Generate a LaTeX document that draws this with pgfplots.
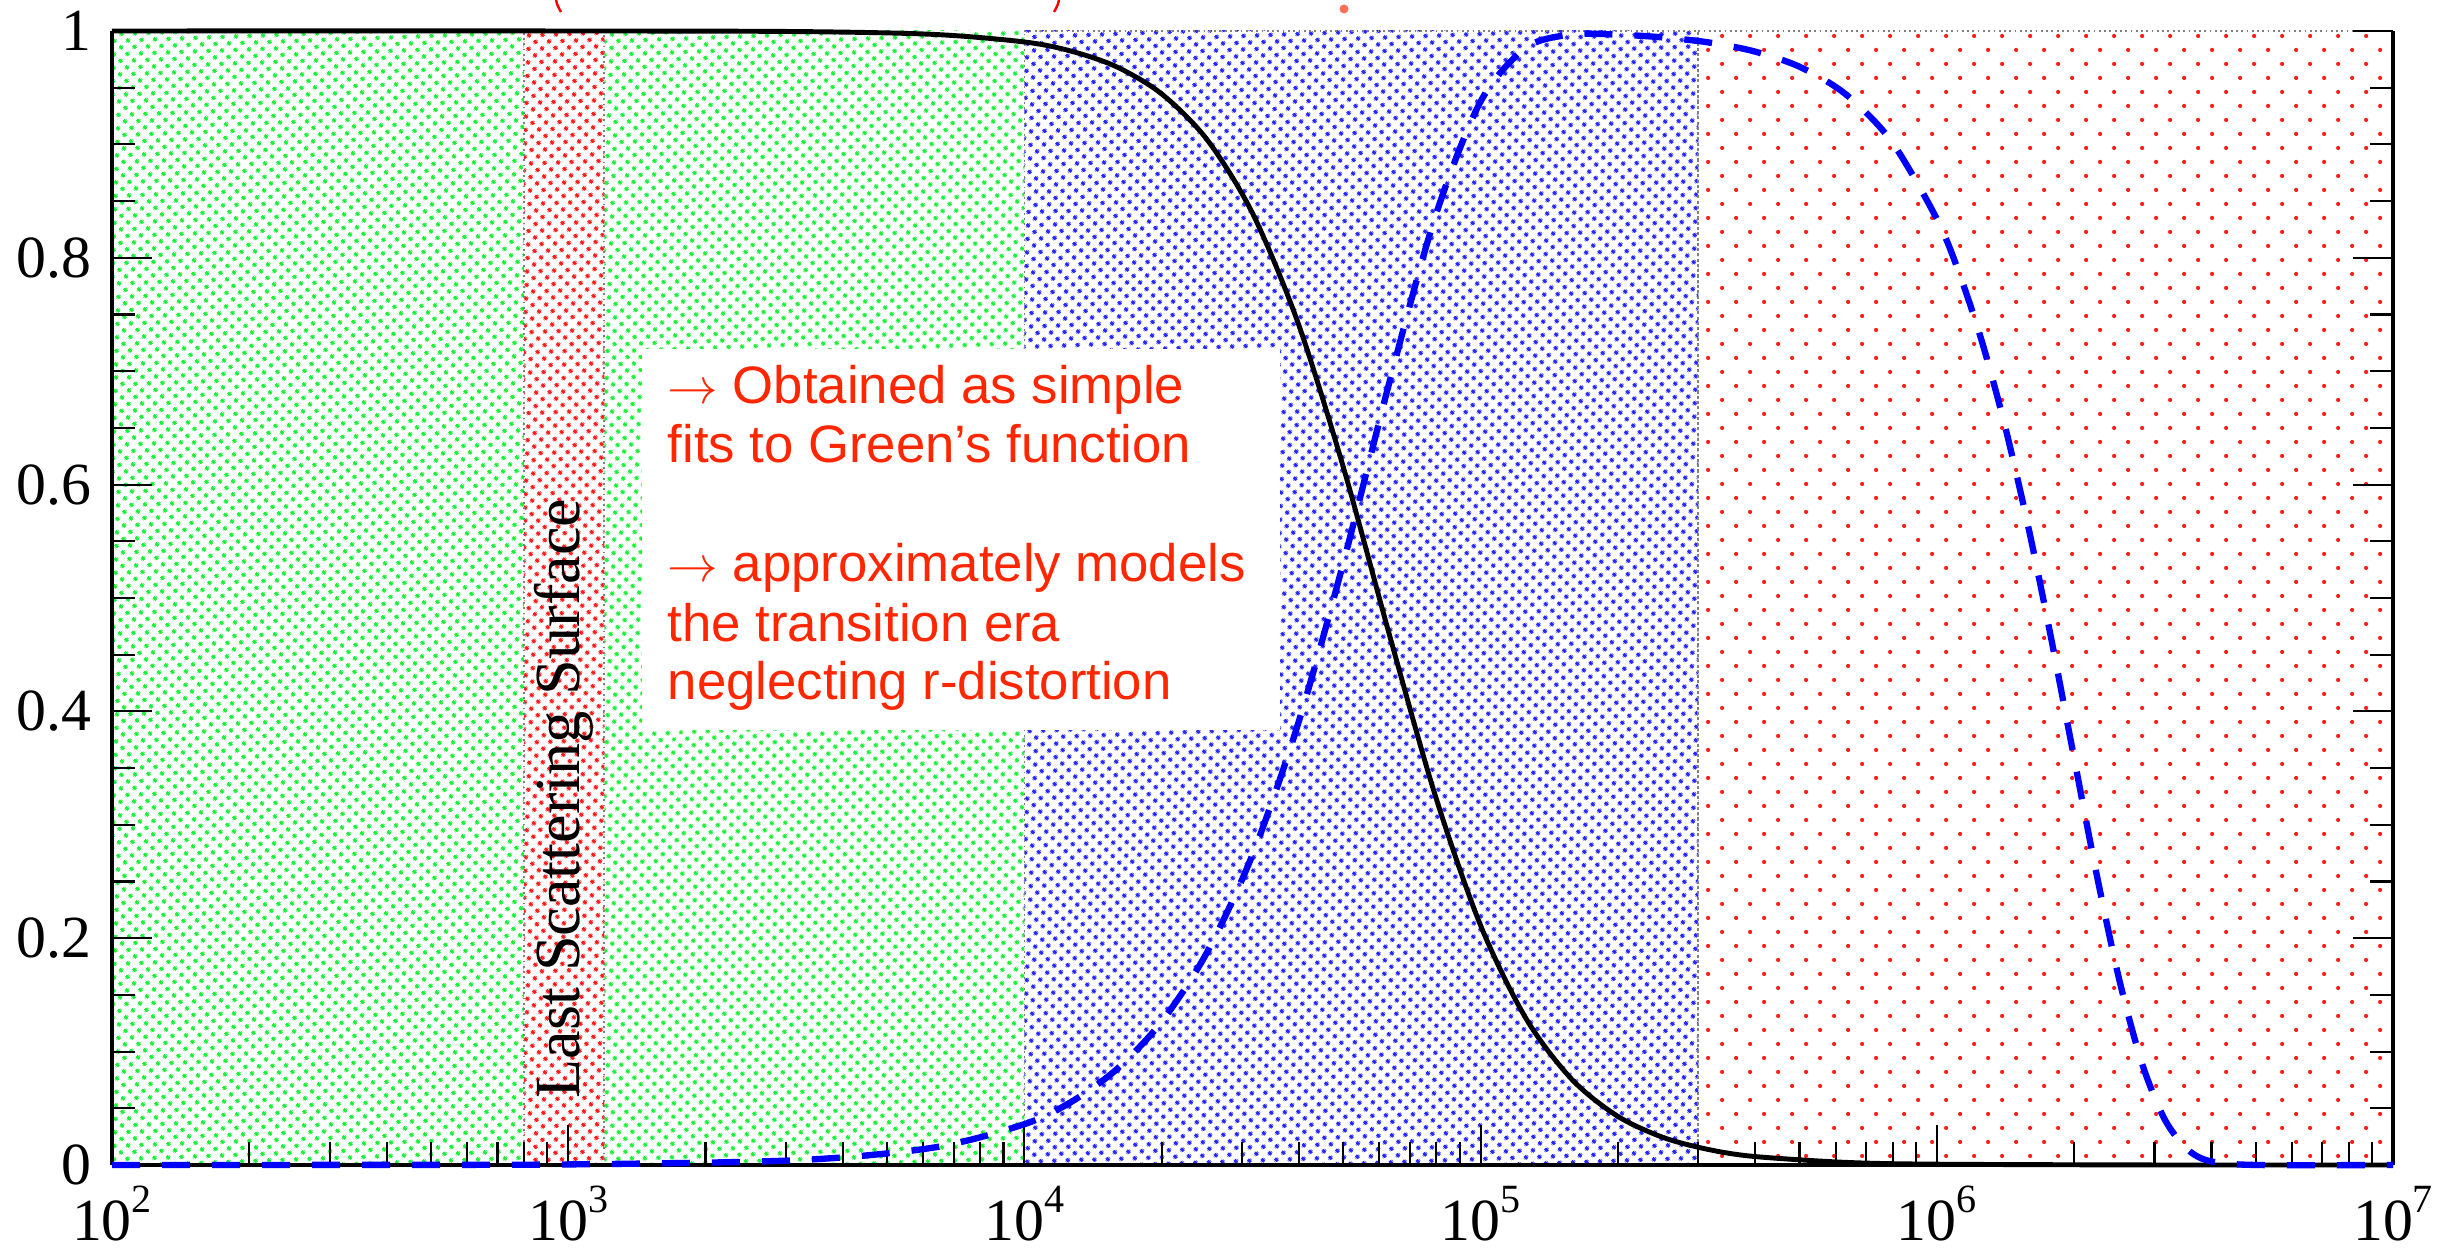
\documentclass[border=0pt]{standalone}
\usepackage{pgfplots}
\pgfplotsset{compat=1.18}
\usepackage{fontspec}
\setmainfont{Liberation Serif}
\newfontfamily\arial{Liberation Sans}
\usetikzlibrary{patterns.meta}
\definecolor{dotgreen}{RGB}{30,240,60}
\definecolor{dotblue}{RGB}{40,40,255}
\definecolor{dotred}{RGB}{255,30,30}
\definecolor{txtred}{RGB}{255,38,0}
\definecolor{salmon}{RGB}{255,110,85}
\newcommand{\dec}[1]{10\raisebox{0.47em}{\fontsize{11.4}{12}\selectfont #1}}

\pgfplotstableread{
x y
100 1.0
1000 1.0
3162 0.9995
6310 0.9970
10000 0.9903
12589 0.9825
15849 0.9688
19953 0.9448
25119 0.9044
31623 0.8393
39811 0.7424
50119 0.6141
63096 0.4677
79433 0.3266
100000 0.2112
125893 0.1288
158489 0.0755
199526 0.0431
251189 0.0243
316228 0.0136
398107 0.0075
630957 0.0023
1000000 0.0007
3162278 0.0
10000000 0.0
}\blackdata

\pgfplotstableread{
x y
100 0.0
316.2 0.0001
1000 0.0005
3162 0.0042
6310 0.0153
10000 0.0360
12589 0.0550
15849 0.0836
19953 0.1259
25119 0.1873
31623 0.2736
39811 0.3891
50119 0.5323
63096 0.6901
79433 0.8355
100000 0.9378
125893 0.9854
158489 0.9969
199526 0.9968
251189 0.9943
316228 0.9899
398107 0.9820
501187 0.9683
630957 0.9443
794328 0.9031
1000000 0.8343
1122018 0.7854
1258925 0.7246
1412538 0.6507
1584893 0.5638
1778279 0.4658
1995262 0.3610
2238721 0.2570
2511886 0.1633
2818383 0.0893
3162278 0.0399
3548134 0.0136
3981072 0.0033
5011872 0.0
10000000 0.0
}\bluedata

\begin{document}
\begin{tikzpicture}
\begin{axis}[
  at={(0,0)}, anchor=south west, scale only axis,
  width=22.81cm, height=11.34cm,
  xmode=log, xmin=1e2, xmax=1e7, ymin=0, ymax=1,
  set layers, clip=false,
  axis x line*=bottom, axis y line*=box,
  axis line style={line width=1.2pt},
  tick align=inside,
  major tick length=4mm, minor tick length=2.3mm,
  every tick/.style={black, line width=0.6pt},
  xtick={1e2,1e3,1e4,1e5,1e6,1e7},
  xticklabels={\dec{2},\dec{3},\dec{4},\dec{5},\dec{6},\dec{7}},
  minor xtick={200,300,400,500,600,700,800,900,2000,3000,4000,5000,6000,7000,8000,9000,2e4,3e4,4e4,5e4,6e4,7e4,8e4,9e4,2e5,3e5,4e5,5e5,6e5,7e5,8e5,9e5,2e6,3e6,4e6,5e6,6e6,7e6,8e6,9e6},
  ytick={0,0.2,0.4,0.6,0.8,1}, yticklabels={0,0.2,0.4,0.6,0.8,1},
  minor y tick num=3,
  ticklabel style={font=\fontsize{17}{17}\selectfont, inner sep=0pt},
  xticklabel shift=2.05mm, yticklabel shift=2mm,
]
% background regions
\addplot[on layer=axis background, draw=none, pattern={Dots[distance=0.99mm, radius=0.26mm, angle=45]}, pattern color=dotgreen] coordinates {(100,1)(800,1)} \closedcycle;
\addplot[on layer=axis background, draw=none, pattern={Dots[distance=0.99mm, radius=0.26mm, angle=45]}, pattern color=dotgreen] coordinates {(1200,1)(10000,1)} \closedcycle;
\addplot[on layer=axis background, draw=gray, densely dotted, line width=0.5pt, pattern={Dots[distance=0.99mm, radius=0.26mm, angle=45]}, pattern color=dotred] coordinates {(800,1)(1200,1)} \closedcycle;
\addplot[on layer=axis background, draw=gray, densely dotted, line width=0.5pt, pattern={Dots[distance=0.99mm, radius=0.26mm, angle=45]}, pattern color=dotblue] coordinates {(10000,1)(3e5,1)} \closedcycle;
\addplot[on layer=axis background, draw=gray, densely dotted, line width=0.5pt, pattern={Dots[distance=1.98mm, radius=0.21mm, angle=45]}, pattern color=dotred] coordinates {(3e5,1)(1e7,1)} \closedcycle;
% curves
\addplot[black, line width=1.4pt, smooth] table[x=x, y=y] {\blackdata};
\addplot[blue, line width=1.8pt, smooth, dash pattern=on 2.8mm off 2.2mm] table[x=x, y=y] {\bluedata};
\node[rotate=90, font=\fontsize{18.3}{20}\selectfont, black] at (axis cs:980,0.323) {Last Scattering Surface};
\end{axis}
% text box
\fill[white] (5.30,4.35) rectangle (11.68,8.16);
\begin{scope}[every node/.style={anchor=base west, inner sep=0pt, text=txtred, font=\arial\fontsize{15}{17}\selectfont}]
\node at (5.55,7.61) {$\rightarrow$ Obtained as simple};
\node at (5.55,7.02) {fits to Green’s function};
\node at (5.55,5.83) {$\rightarrow$ approximately models};
\node at (5.55,5.23) {the transition era};
\node at (5.55,4.65) {neglecting r-distortion};
\end{scope}
% cropped remnants of text above
\draw[red, line width=0.7pt] (4.43,11.70) .. controls (4.45,11.60) .. (4.49,11.53);
\draw[red, line width=0.7pt] (9.48,11.70) .. controls (9.46,11.60) .. (9.42,11.53);
\fill[salmon] (12.32,11.56) circle (0.045);
\pgfresetboundingbox
\useasboundingbox (-1.12,-0.89) rectangle (23.50,11.65);
\end{tikzpicture}
\end{document}
